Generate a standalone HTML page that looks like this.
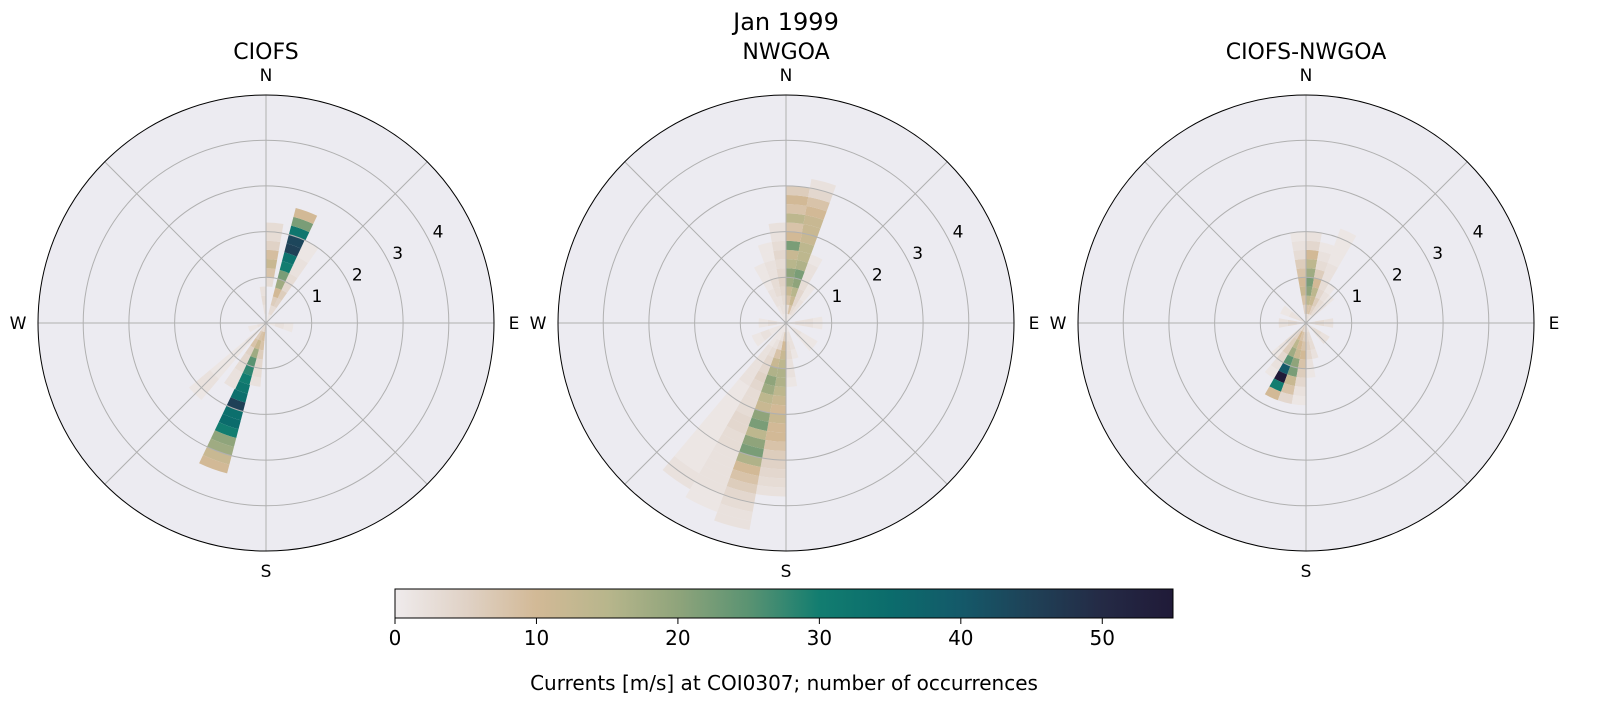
<!DOCTYPE html>
<html><head><meta charset="utf-8"><style>
body{margin:0;background:#fff;}
svg{display:block;font-family:"DejaVu Sans","Liberation Sans",sans-serif;}
</style></head><body>
<svg id="s" width="1611" height="724" viewBox="0 0 1611 724" xmlns="http://www.w3.org/2000/svg">
<text x="786" y="30" font-size="24" text-anchor="middle">Jan 1999</text>
</svg>
<script>
const S=document.getElementById('s');
const stops=[[0,'#efebec'],[5,'#e0d2c6'],[10,'#d2b996'],[15,'#b8b68c'],[20,'#8fa47b'],[25,'#5a9372'],[30,'#127d70'],[35,'#0b6c6c'],[40,'#145969'],[45,'#1f4157'],[50,'#242a45'],[55,'#201a38']];
function hx(c){return [1,3,5].map(i=>parseInt(c.substr(i,2),16));}
function cmap(v){v=Math.max(0,Math.min(55,v));for(let i=0;i<stops.length-1;i++){if(v<=stops[i+1][0]){const t=(v-stops[i][0])/(stops[i+1][0]-stops[i][0]);const a=hx(stops[i][1]),b=hx(stops[i+1][1]);return 'rgb('+a.map((x,j)=>Math.round(x+(b[j]-x)*t)).join(',')+')';}}return stops[stops.length-1][1];}
let h='';
let g='<linearGradient id="cg">';stops.forEach(s=>g+='<stop offset="'+(s[0]/55)+'" stop-color="'+s[1]+'"/>');g+='</linearGradient>';
h+='<defs>'+g+'</defs>';
const R=45.7;
function pt(cx,cy,r,a){const t=a*Math.PI/180;return [cx+r*Math.sin(t),cy-r*Math.cos(t)];}
function wedge(cx,cy,a0,a1,r0,r1,col){const p1=pt(cx,cy,r0,a0),p2=pt(cx,cy,r1,a0),p3=pt(cx,cy,r1,a1),p4=pt(cx,cy,r0,a1);
return '<path d="M'+p1+'L'+p2+'A'+r1+','+r1+' 0 0 1 '+p3+'L'+p4+(r0>0?'A'+r0+','+r0+' 0 0 0 '+p1:'')+'Z" fill="'+col+'"/>';}
const data=[
 {t:'CIOFS',cx:266,bars:[
  [20,11,0,[1,3,6,10,18,22,30,33,45,44,32,22,10]],
  [5,10,0,[0,0,0,0,3,8,12,9,5,3,3]],
  [30,10,0,[1,3,5,6,4,3,2,2,1,1]],
  [200,11,0,[3,8,12,18,25,28,30,32,34,45,34,35,30,20,18,12,10]],
  [210,10,0,[4,6,8,5,4,3,2,2]],
  [190,10,0,[5,9,8,6,4,3,2]],
  [225,10,0,[1,2,2,1,1,1,1,1,2,2,1]],
  [355,10,0,[1,2,3,2]],[100,20,0,[1,2,1]],[250,20,0,[2,1]]]},
 {t:'NWGOA',cx:786,bars:[
  [5,10,0,[1,3,8,12,18,20,15,12,22,10,8,14,8,10,6]],
  [15,10,0,[2,8,12,15,20,22,16,14,14,12,12,12,10,8,4,2]],
  [355,10,0,[1,2,3,4,5,4,3,4,3,2,2]],
  [345,10,0,[1,2,2,3,3,2,2,1,1]],[335,10,0,[1,1,2,2,1,1,1]],
  [25,10,0,[1,3,4,4,3,2,2,1]],[35,10,0,[1,2,2,1,1]],
  [185,10,0,[2,6,10,12,14,16,16,14,12,10,12,10,10,8,6,5,4,3,2]],
  [195,10,0,[1,2,4,8,12,16,20,18,14,12,20,22,14,20,22,16,10,8,6,4,3,2,2]],
  [205,10,0,[1,1,2,3,4,4,5,4,3,3,3,4,4,3,3,2,2,2,2,2,1,1]],
  [215,10,0,[1,1,1,2,2,2,2,2,1,1,1,1,1,1,1,1,1,1,1,2,2]],
  [175,10,0,[1,2,3,3,2,2,1]],[165,10,0,[1,2,2,1]],
  [90,20,0,[1,2,2,1]],[270,20,0,[1,2,1]],[130,20,0,[1,2,1,1]],[240,20,0,[1,1,2,1]]]},
 {t:'CIOFS-NWGOA',cx:1306,bars:[
  [5,10,0,[2,8,14,20,22,18,14,10,4,2]],
  [355,10,0,[2,5,8,12,10,8,6,3,2,1]],
  [15,10,0,[3,8,12,14,10,6,3,2,1]],
  [25,10,0,[2,5,6,4,3,2,2,1,1,1,1]],
  [35,10,0,[1,3,3,2,1]],[45,10,0,[1,2,2,1]],
  [205,10,0,[6,10,14,18,25,40,55,30,10]],
  [195,10,0,[4,8,10,12,20,22,12,8,4]],
  [185,10,0,[3,6,8,10,8,6,4,2,1]],
  [215,10,0,[3,5,6,6,4,2,1]],[225,10,0,[2,3,3,2,1]],
  [175,10,0,[2,4,5,4,2,1]],[165,10,0,[2,3,3,2]],
  [90,20,0,[2,3,2]],[270,20,0,[2,3,2]],[300,20,0,[2,2,1]],[130,20,0,[2,3,2]]]}
];
const cy=323;
data.forEach(d=>{const cx=d.cx;
 h+='<circle cx="'+cx+'" cy="'+cy+'" r="228" fill="#ecebf1"/>';
 d.bars.forEach(b=>{const [a,w,s,v]=b;v.forEach((val,i)=>{if(val<=0)return;const r0=(s+i*0.2)*R,r1=(s+(i+1)*0.2)*R;h+=wedge(cx,cy,a-w/2,a+w/2,r0,r1,cmap(val));});});
 for(let k=1;k<=4;k++)h+='<circle cx="'+cx+'" cy="'+cy+'" r="'+(k*R)+'" fill="none" stroke="#b0b0b0" stroke-width="1"/>';
 for(let a=0;a<360;a+=45){const p=pt(cx,cy,228,a);h+='<line x1="'+cx+'" y1="'+cy+'" x2="'+p[0]+'" y2="'+p[1]+'" stroke="#b0b0b0" stroke-width="1"/>';}
 h+='<circle cx="'+cx+'" cy="'+cy+'" r="228" fill="none" stroke="#000" stroke-width="1"/>';
 [['N',0],['E',90],['S',180],['W',270]].forEach(l=>{const p=pt(cx,cy,248,l[1]);h+='<text x="'+p[0]+'" y="'+(p[1]+6)+'" font-size="17" text-anchor="middle">'+l[0]+'</text>';});
 for(let k=1;k<=4;k++){const p=pt(cx,cy,k*R+12,62);h+='<text x="'+p[0]+'" y="'+(p[1]+6)+'" font-size="17" text-anchor="middle">'+k+'</text>';}
 h+='<text x="'+cx+'" y="59" font-size="22" text-anchor="middle">'+d.t+'</text>';
});
const x0=395,x1=1173;
h+='<rect x="'+x0+'" y="589" width="'+(x1-x0)+'" height="29" fill="url(#cg)" stroke="#000" stroke-width="1"/>';
for(let v=0;v<=50;v+=10){const x=x0+v*(x1-x0)/55;h+='<line x1="'+x+'" y1="618" x2="'+x+'" y2="624" stroke="#000"/><text x="'+x+'" y="645" font-size="20" text-anchor="middle">'+v+'</text>';}
h+='<text x="784" y="690" font-size="20" text-anchor="middle">Currents [m/s] at COI0307; number of occurrences</text>';
S.insertAdjacentHTML('beforeend',h);
</script>
</body></html>
